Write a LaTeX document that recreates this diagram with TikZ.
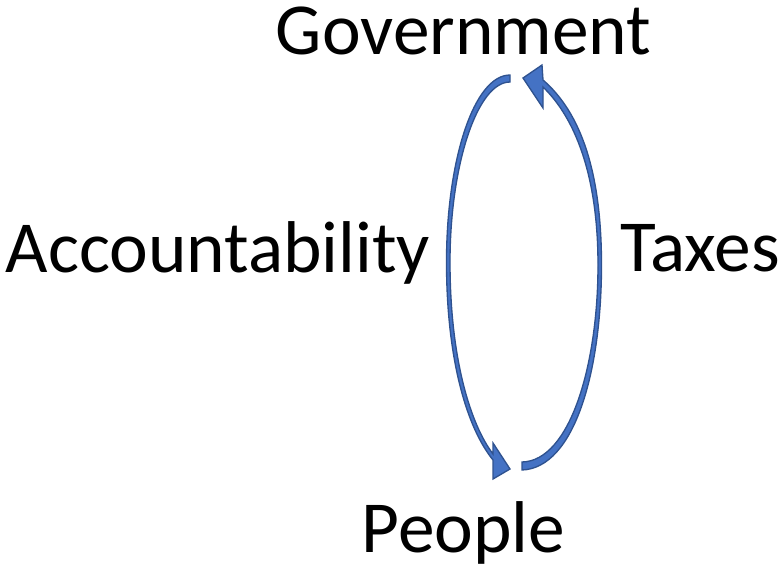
\documentclass[tikz,border=0pt]{standalone}
\usepackage{fontspec}
\setmainfont{Carlito}
\definecolor{arrfill}{HTML}{4472C4}
\definecolor{arrline}{HTML}{2F528F}
\begin{document}
\begin{tikzpicture}[x=0.75pt,y=-0.75pt,
  lbl/.style={inner sep=0pt,anchor=base,text=black,font=\fontsize{55}{60}\selectfont},
  carrow/.style={fill=arrfill,draw=arrline,line width=1pt,line join=miter}]
\useasboundingbox (0,0) rectangle (782,569);
\node[lbl,text height=30pt] (gov) at (463.5,54) {Government};
\node[lbl] (people) at (463.5,552) {People};
\node[lbl] (acc) at (218,272) {Accountability};
\node[lbl] (tax) at (700,271) {Taxes};
% Accountability arrow: Government -> People (left arc)
\path[carrow] (510,75) .. controls (474,75) and (446.5,160) .. (446.5,262)
  .. controls (446.5,360) and (467,428) .. (493,460)
  -- (493,479) -- (510,469) -- (493,443) -- (493,454)
  .. controls (471,425) and (450,360) .. (450,262)
  .. controls (450,166) and (477,82) .. (510,82) -- cycle;
% Taxes arrow: People -> Government (right arc)
\path[carrow] (522,470) .. controls (575,468) and (601.5,370) .. (601.5,265)
  .. controls (601.5,170) and (580,112) .. (543,80)
  -- (542,65) -- (523,78) -- (543,108) -- (543,87)
  .. controls (575,118) and (598,175) .. (598,265)
  .. controls (598,365) and (570,461) .. (522,462) -- cycle;
\end{tikzpicture}
\end{document}
